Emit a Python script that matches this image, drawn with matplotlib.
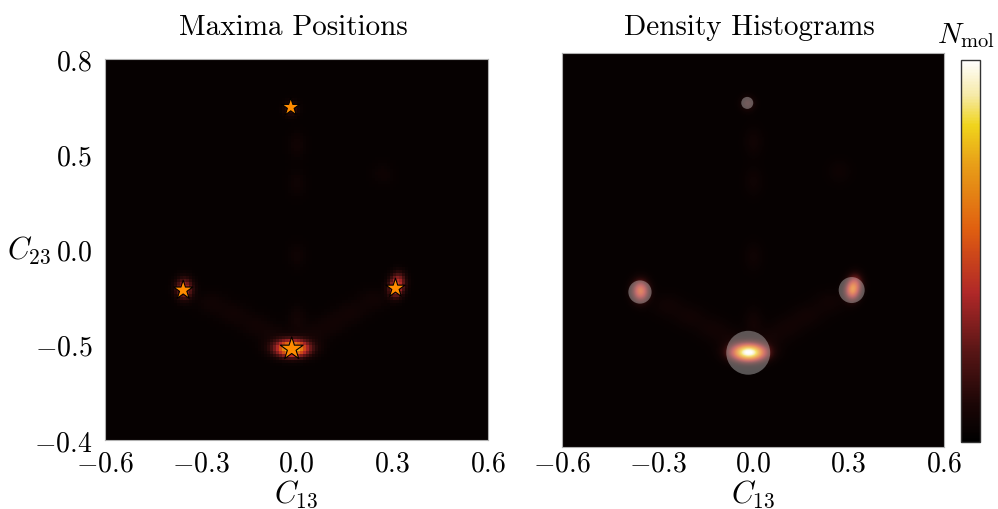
import matplotlib
matplotlib.use("Agg")
import matplotlib.pyplot as plt
import numpy as np
from matplotlib.colors import LinearSegmentedColormap
from matplotlib.transforms import blended_transform_factory

plt.rcParams['font.family'] = 'serif'
plt.rcParams['font.serif'] = ['cmr10']
plt.rcParams['mathtext.fontset'] = 'cm'
plt.rcParams['axes.formatter.use_mathtext'] = True

# tick labels as printed in the figure
x_ticks = [-0.6, -0.3, 0.0, 0.3, 0.6]
x_labels = ['-0.6', '-0.3', '0.0', '0.3', '0.6']
y_labels = ['-0.4', '-0.5', '0.0', '0.5', '0.8']

# maxima found in the (C13, C23) plane
max_x = [-0.015, -0.355, 0.31, -0.018]
max_y = [-0.313, -0.128, -0.122, 0.448]
star_sizes = [300, 210, 210, 180]
circle_sizes = [1000, 280, 350, 75]

# density blobs: centre, spread, height
blob_x = [-0.015, -0.355, 0.31, 0.32, -0.018,
          -0.27, -0.2, -0.13, -0.07, 0.24, 0.17, 0.11, 0.05,
          0.0, 0.0, 0.0, 0.0, 0.27]
blob_y = [-0.313, -0.125, -0.125, -0.1, 0.448,
          -0.17, -0.205, -0.24, -0.275, -0.16, -0.2, -0.235, -0.27,
          -0.22, -0.02, 0.21, 0.33, 0.24]
blob_sx = [0.036, 0.018, 0.016, 0.016, 0.015,
           0.035, 0.035, 0.035, 0.035, 0.035, 0.035, 0.035, 0.035,
           0.02, 0.02, 0.02, 0.02, 0.025]
blob_sy = [0.018, 0.022, 0.02, 0.02, 0.015,
           0.025, 0.025, 0.025, 0.025, 0.025, 0.025, 0.025, 0.025,
           0.03, 0.03, 0.03, 0.03, 0.025]
amp_left = [0.85, 0.38, 0.36, 0.26, 0.16,
            0.035, 0.035, 0.035, 0.04, 0.035, 0.035, 0.035, 0.04,
            0.04, 0.03, 0.03, 0.035, 0.025]
amp_right = [1.0, 0.48, 0.46, 0.26, 0.12,
             0.035, 0.035, 0.035, 0.04, 0.035, 0.035, 0.035, 0.04,
             0.04, 0.03, 0.03, 0.035, 0.025]
floor = 0.025

cmap = LinearSegmentedColormap.from_list('nmol', [
    (0.0, '#000000'), (0.1, '#1c0606'), (0.24, '#5a1616'), (0.39, '#b02828'),
    (0.5, '#d04a18'), (0.56, '#e06010'), (0.73, '#e8a018'), (0.83, '#f0d41c'),
    (0.91, '#f6eaa8'), (1.0, '#ffffff')])


def density(n, amps):
    g = np.linspace(-0.6, 0.6, n)
    X, Y = np.meshgrid(g, g)
    Z = np.full_like(X, floor)
    for x, y, sx, sy, a in zip(blob_x, blob_y, blob_sx, blob_sy, amps):
        Z += a * np.exp(-0.5 * ((X - x) / sx) ** 2 - 0.5 * ((Y - y) / sy) ** 2)
    return np.clip(Z, 0, 1)


fig = plt.figure(figsize=(9.98, 5.10), dpi=100)
ax1 = fig.add_axes([0.1052, 0.1353, 0.3838, 0.747])
ax2 = fig.add_axes([0.5631, 0.1216, 0.3828, 0.7725])
cax = fig.add_axes([0.963, 0.1314, 0.019, 0.749])

im1 = ax1.imshow(density(128, amp_left), extent=[-0.6, 0.6, -0.6, 0.6], origin='lower',
                 cmap=cmap, vmin=0, vmax=1, interpolation='nearest', aspect='auto')
ax1.scatter(max_x, max_y, s=star_sizes, marker='*', c='#ff8c00',
            edgecolors='black', linewidths=0.8, zorder=3)

im2 = ax2.imshow(density(300, amp_right), extent=[-0.6, 0.6, -0.6, 0.6], origin='lower',
                 cmap=cmap, vmin=0, vmax=1, interpolation='bilinear', aspect='auto')
ax2.scatter(max_x, max_y, s=circle_sizes, marker='o', c='white', alpha=0.33,
            edgecolors='none', zorder=3)

for ax in (ax1, ax2):
    ax.set_xlim(-0.6, 0.6)
    ax.set_ylim(-0.6, 0.6)
    ax.set_xticks(x_ticks)
    ax.set_xticklabels(['$' + t + '$' for t in x_labels], fontsize=20)
    ax.tick_params(length=0, pad=7)
    for s in ax.spines.values():
        s.set_color('#b0b0b0')
        s.set_linewidth(0.8)
    ax.set_xlabel('$C_{13}$', fontsize=22, va='top')
    ax.xaxis.set_label_coords(0.5, 0.062,
                              transform=blended_transform_factory(ax.transAxes, fig.transFigure))

ax2.tick_params(axis='x', pad=2)

ax1.set_yticks(x_ticks)
ax1.set_yticklabels(['$' + t + '$' for t in y_labels], fontsize=20)
ax1.tick_params(axis='y', pad=9)
ax1.set_ylabel('$C_{23}$', fontsize=22, rotation=0, ha='right', va='center')
ax1.yaxis.set_label_coords(-0.14, 0.5)
ax2.set_yticks([])

fig.text(0.294, 0.945, 'Maxima Positions', fontsize=21, ha='center', va='center')
fig.text(0.751, 0.945, 'Density Histograms', fontsize=21, ha='center', va='center')

cb = fig.colorbar(im2, cax=cax)
cb.set_ticks([])
cb.outline.set_edgecolor('#333333')
cb.outline.set_linewidth(1.0)
fig.text(0.968, 0.93, r'$N_{\mathrm{mol}}$', fontsize=21, ha='center', va='center')

fig.savefig('out.png', dpi=100)
